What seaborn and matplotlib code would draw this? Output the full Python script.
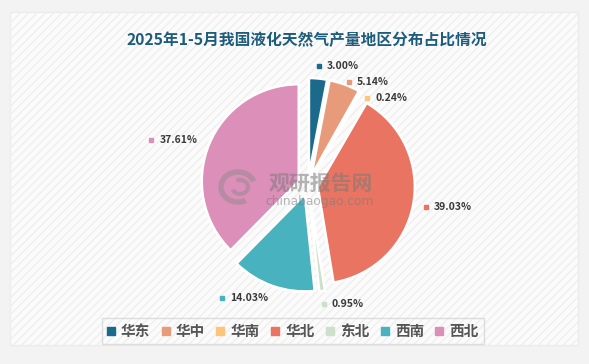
import matplotlib
matplotlib.use("Agg")
import matplotlib.pyplot as plt
import seaborn as sns
import numpy as np
from matplotlib.patches import Rectangle, Arc
from matplotlib.lines import Line2D

regions = ["华东", "华中", "华南", "华北", "东北", "西南", "西北"]
shares = [3.00, 5.14, 0.24, 39.03, 0.95, 14.03, 37.61]
colors = ["#1b6a8c", "#e89b7b", "#fec57a", "#e97461", "#cde0cb", "#48b2bf", "#dc8fb9"]
title = "2025年1-5月我国液化天然气产量地区分布占比情况"

sns.set_theme(style="white")
plt.rcParams["font.family"] = ["Noto Sans CJK SC", "DejaVu Sans"]

W, H = 589, 364
fig = plt.figure(figsize=(W / 100, H / 100), dpi=100, facecolor="#f3f3f3")
ax = fig.add_axes([0, 0, 1, 1])
ax.set_facecolor("none")

# panel
ax.add_patch(Rectangle((10, 19), 568, 333, facecolor="#fbfbfb", edgecolor="#ececec", lw=1.0, zorder=0))
ax.add_patch(Rectangle((10, 19), 568, 333, facecolor="none", edgecolor="#efefef", hatch="////", lw=0, zorder=0))

cx, cy, r = 308, H - 185, 97
expl_frac = 0.103
wedges, _ = ax.pie(shares, colors=colors, startangle=90, counterclock=False,
                   center=(cx, cy), radius=r, explode=[expl_frac * r] * len(shares),
                   wedgeprops=dict(edgecolor="white", linewidth=1.8),
                   normalize=True)
for w in wedges:
    w.set_zorder(3)

ax.set_xlim(0, W)
ax.set_ylim(0, H)
ax.set_aspect("equal")
ax.axis("off")

# watermark
wm = "#7a7a7a"
ax.text(321, H - 183, "观研报告网", fontsize=15, fontweight="bold", color=wm, alpha=0.55,
        ha="center", va="center", zorder=5)
ax.text(320, H - 202, "chinabaogao.com", fontsize=8.8, color=wm, alpha=0.55,
        ha="center", va="center", zorder=5, family="DejaVu Sans")
ax.add_patch(Arc((238, H - 187), 34, 30, theta1=20, theta2=300, edgecolor="#8a8a8a",
                 lw=4, alpha=0.45, zorder=5))
ax.add_patch(Arc((240, H - 187), 16, 14, theta1=200, theta2=480, edgecolor="#8a8a8a",
                 lw=3, alpha=0.45, zorder=5))

# labels
total = sum(shares)
cum = 0.0
fig.canvas.draw()
renderer = fig.canvas.get_renderer()
items = []
for val, col in zip(shares, colors):
    mid = 90 - 360 * (cum + val / 2) / total
    cum += val
    t = np.deg2rad(mid)
    ex = cx + expl_frac * r * np.cos(t)
    ey = cy + expl_frac * r * np.sin(t)
    lx = ex + 1.13 * r * np.cos(t)
    ly = ey + 1.13 * r * np.sin(t)
    items.append([lx, ly, val, col, np.cos(t) >= -0.05])

# simple collision avoidance on right side (top to bottom)
right = sorted([it for it in items if it[4]], key=lambda it: -it[1])
for a, b in zip(right[:-1], right[1:]):
    if a[1] - b[1] < 16:
        b[1] = a[1] - 16

for lx, ly, val, col, is_right in items:
    txt = f"{val:.2f}%"
    if is_right:
        ax.plot(lx, ly, marker="s", ms=3, color=col, zorder=6, clip_on=False)
        ax.text(lx + 8, ly, txt, fontsize=7.5, fontweight="bold", color="#3a3a3a",
                ha="left", va="center", zorder=6)
    else:
        tt = ax.text(lx, ly, txt, fontsize=7.5, fontweight="bold", color="#3a3a3a",
                     ha="right", va="center", zorder=6)
        bb = tt.get_window_extent(renderer)
        ax.plot(lx - bb.width - 8, ly, marker="s", ms=3, color=col, zorder=6, clip_on=False)

# title
ax.text(307, H - 40, title, fontsize=11.3, fontweight="bold", color="#1e5c7c",
        ha="center", va="center", zorder=6)

# legend
handles = [Line2D([0], [0], marker="s", linestyle="none", markersize=6, color=c) for c in colors]
leg = fig.legend(handles, regions, loc="center", bbox_to_anchor=(293 / W, 1 - 331 / H), ncol=7,
                 frameon=True, fancybox=False, edgecolor="#d6d6d6", facecolor="none",
                 prop=dict(size=10.5, weight="bold"), handlelength=0.5, handletextpad=0.45,
                 columnspacing=0.8, borderpad=0.35)
leg.get_frame().set_linewidth(1.0)
for t in leg.get_texts():
    t.set_color("#555555")

fig.savefig("out.png", dpi=100, facecolor=fig.get_facecolor())
